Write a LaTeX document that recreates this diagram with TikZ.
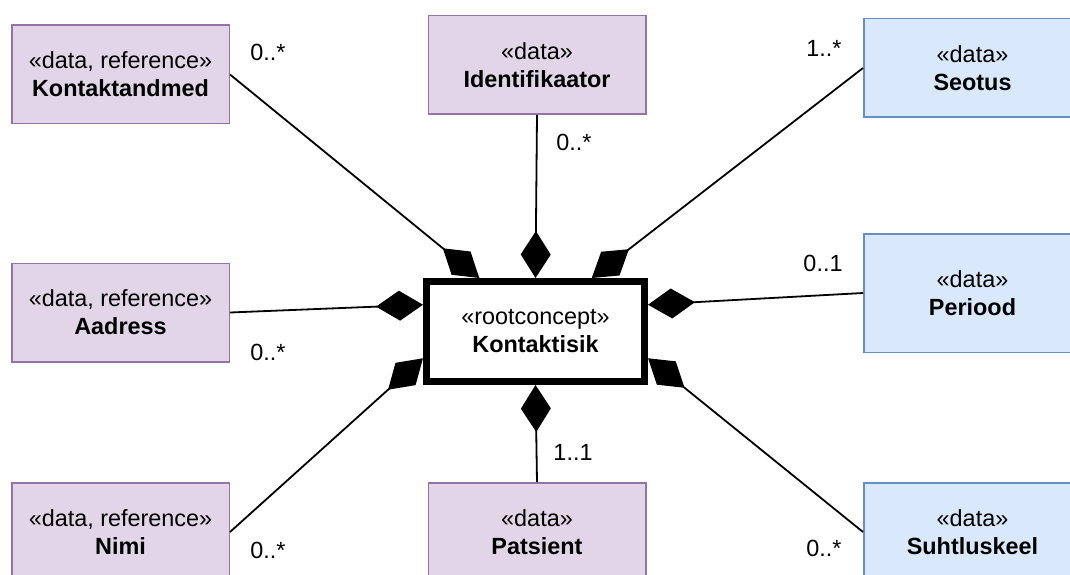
\documentclass[tikz,border=0pt]{standalone}
\usepackage{fontspec}
\setmainfont{Liberation Sans}
\usetikzlibrary{arrows.meta,calc}
\definecolor{purpfill}{HTML}{E1D5E7}
\definecolor{purpline}{HTML}{9673A6}
\definecolor{bluefill}{HTML}{DAE8FC}
\definecolor{blueline}{HTML}{6C8EBF}

\begin{document}
\begin{tikzpicture}[x=1pt,y=-1pt,
  every node/.style={font=\fontsize{23.4}{28}\selectfont},
  databox/.style={draw=purpline,fill=purpfill,line width=1.5pt,
    minimum width=217.5pt,minimum height=98.5pt,align=center,inner sep=0pt},
  bluebox/.style={databox,draw=blueline,fill=bluefill},
  rootbox/.style={draw=black,fill=white,line width=7pt,
    minimum width=218pt,minimum height=100pt,align=center,inner sep=0pt},
  mult/.style={inner sep=0pt},
  conn/.style={line width=1.8pt,-{Diamond[length=47pt,width=30pt]}}
]
\useasboundingbox (0,0) rectangle (1070,575);
\clip (0,0) rectangle (1070,575);

% central concept
\node[rootbox] (root) at (535.5,331.5) {«rootconcept»\\\textbf{Kontaktisik}};

% connection points on the central box
\coordinate (rtTL) at ($(root.north west)!0.25!(root.north east)$);
\coordinate (rtTR) at ($(root.north west)!0.75!(root.north east)$);
\coordinate (rtLU) at ($(root.north west)!0.25!(root.south west)$);
\coordinate (rtLD) at ($(root.north west)!0.75!(root.south west)$);
\coordinate (rtRU) at ($(root.north east)!0.25!(root.south east)$);
\coordinate (rtRD) at ($(root.north east)!0.75!(root.south east)$);

% surrounding data classes
\node[databox] (kont)  at (120.5,74.5)  {«data, reference»\\\textbf{Kontaktandmed}};
\node[databox] (ident) at (537,65)      {«data»\\\textbf{Identifikaator}};
\node[bluebox] (seot)  at (972.5,68)    {«data»\\\textbf{Seotus}};
\node[databox] (aadr)  at (120.5,312.5) {«data, reference»\\\textbf{Aadress}};
\node[bluebox,minimum height=118.5pt] (peri) at (972.5,293) {«data»\\\textbf{Periood}};
\node[databox] (nimi)  at (120.5,532)   {«data, reference»\\\textbf{Nimi}};
\node[databox] (pats)  at (537,532)     {«data»\\\textbf{Patsient}};
\node[bluebox] (suht)  at (972.5,532)   {«data»\\\textbf{Suhtluskeel}};

% composition connectors
\draw[conn] (kont.east) -- (rtTL);
\draw[conn] (ident.south) -- (root.north);
\draw[conn] (seot.west) -- (rtTR);
\draw[conn] (aadr.east) -- (rtLU);
\draw[conn] (peri.west) -- (rtRU);
\draw[conn] (nimi.east) -- (rtLD);
\draw[conn] (pats.north) -- (root.south);
\draw[conn] (suht.west) -- (rtRD);

% multiplicities
\node[mult] (m1) at (268,52)  {0..*};
\node[mult] (m2) at (574,142) {0..*};
\node[mult] (m3) at (824,48)  {1..*};
\node[mult] (m4) at (823,263) {0..1};
\node[mult] (m5) at (268,352) {0..*};
\node[mult] (m6) at (573,452) {1..1};
\node[mult] (m7) at (268,550) {0..*};
\node[mult] (m8) at (824,548) {0..*};
\end{tikzpicture}
\end{document}
